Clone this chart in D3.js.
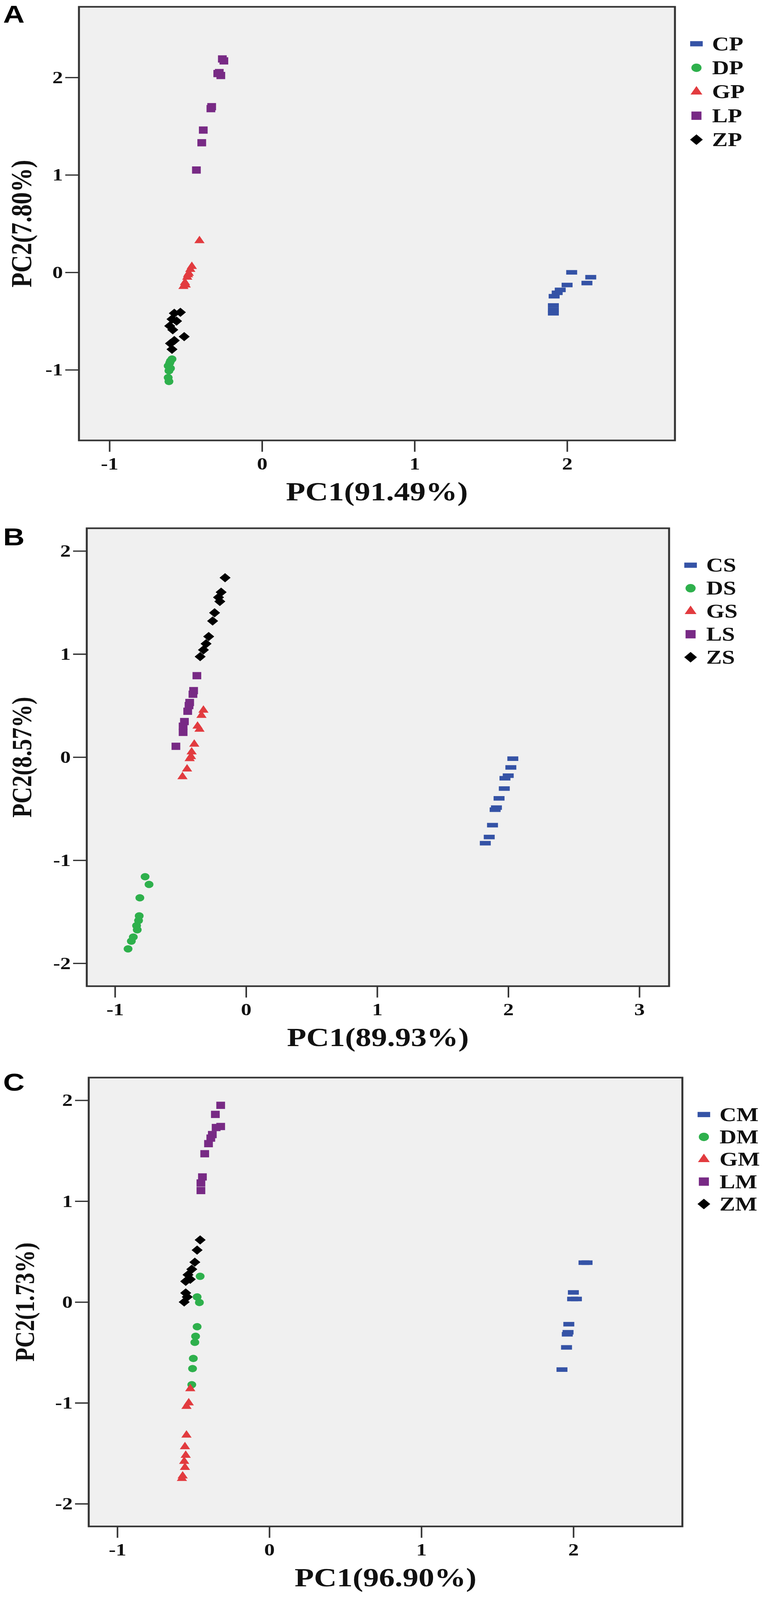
<!DOCTYPE html>
<html>
<head>
<meta charset="utf-8">
<script src="https://cdn.jsdelivr.net/npm/d3@7"></script>
<style>
  body { margin: 0; background: #fff; overflow: hidden; }
  svg { display: block; }
</style>
</head>
<body>
<div id="chart"></div>
<script>

// panel texts and axis settings
var panelLetters = ["A", "B", "C"];
var sampleSuffix = ["P", "S", "M"];
var groupCodes = ["C", "D", "G", "L", "Z"];
var xTitles = ["PC1(91.49%)", "PC1(89.93%)", "PC1(96.90%)"];
var yTitles = ["PC2(7.80%)", "PC2(8.57%)", "PC2(1.73%)"];
var xTicks = [[-1, 0, 1, 2], [-1, 0, 1, 2, 3], [-1, 0, 1, 2]];
var yTicks = [[-1, 0, 1, 2], [-2, -1, 0, 1, 2], [-2, -1, 0, 1, 2]];
var xDomains = [[-1.2, 2.707], [-1.215, 3.227], [-1.188, 2.717]];
var yDomains = [[-1.725, 2.725], [-2.222, 2.22], [-2.225, 2.225]];

// scores [PC1, PC2], panel A
var CP = [[2.03, 0.0], [2.155, -0.05], [2.13, -0.11], [2.0, -0.13], [1.955, -0.18], [1.935, -0.21], [1.915, -0.245], [1.91, -0.34], [1.91, -0.385], [1.91, -0.42]];
var DP = [[-0.59, -0.89], [-0.6, -0.91], [-0.605, -0.93], [-0.615, -0.96], [-0.6, -0.985], [-0.61, -1.01], [-0.615, -1.08], [-0.61, -1.12]];
var GP = [[-0.41, 0.325], [-0.46, 0.06], [-0.47, 0.03], [-0.48, -0.01], [-0.485, -0.025], [-0.49, -0.05], [-0.5, -0.13], [-0.505, -0.105], [-0.515, -0.145]];
var LP = [[-0.26, 2.19], [-0.25, 2.17], [-0.28, 2.05], [-0.29, 2.04], [-0.27, 2.02], [-0.33, 1.70], [-0.335, 1.68], [-0.385, 1.46], [-0.395, 1.33], [-0.43, 1.05]];
var ZP = [[-0.535, -0.41], [-0.575, -0.42], [-0.59, -0.48], [-0.56, -0.50], [-0.605, -0.55], [-0.585, -0.59], [-0.51, -0.66], [-0.575, -0.70], [-0.6, -0.73], [-0.59, -0.79]];

// panel B
var CS = [[2.035, -0.015], [2.02, -0.10], [2.0, -0.18], [1.975, -0.205], [1.97, -0.305], [1.93, -0.40], [1.91, -0.49], [1.90, -0.51], [1.88, -0.66], [1.855, -0.775], [1.825, -0.835]];
var DS = [[-0.77, -1.16], [-0.74, -1.235], [-0.81, -1.365], [-0.815, -1.54], [-0.82, -1.585], [-0.835, -1.635], [-0.83, -1.675], [-0.86, -1.745], [-0.875, -1.785], [-0.9, -1.86]];
var GS = [[-0.325, 0.455], [-0.34, 0.405], [-0.37, 0.30], [-0.355, 0.27], [-0.395, 0.125], [-0.415, 0.05], [-0.42, 0.005], [-0.43, -0.015], [-0.45, -0.115], [-0.485, -0.19]];
var LS = [[-0.375, 0.79], [-0.40, 0.645], [-0.405, 0.61], [-0.43, 0.53], [-0.435, 0.50], [-0.445, 0.445], [-0.47, 0.345], [-0.48, 0.30], [-0.48, 0.24], [-0.535, 0.105]];
var ZS = [[-0.16, 1.74], [-0.19, 1.60], [-0.21, 1.55], [-0.2, 1.51], [-0.24, 1.40], [-0.255, 1.32], [-0.285, 1.17], [-0.305, 1.10], [-0.325, 1.04], [-0.35, 0.975]];

// panel C
var CM = [[2.09, 0.39], [2.07, 0.39], [2.0, 0.095], [2.02, 0.03], [1.995, 0.03], [1.97, -0.22], [1.965, -0.30], [1.96, -0.32], [1.955, -0.45], [1.925, -0.67]];
var DM = [[-0.455, 0.255], [-0.475, 0.05], [-0.46, -0.005], [-0.475, -0.245], [-0.485, -0.34], [-0.49, -0.40], [-0.50, -0.56], [-0.505, -0.66], [-0.51, -0.82]];
var GM = [[-0.52, -0.86], [-0.53, -1.0], [-0.545, -1.035], [-0.545, -1.32], [-0.555, -1.435], [-0.55, -1.52], [-0.56, -1.58], [-0.555, -1.64], [-0.57, -1.725], [-0.575, -1.75]];
var LM = [[-0.32, 1.95], [-0.355, 1.86], [-0.32, 1.74], [-0.35, 1.73], [-0.375, 1.66], [-0.385, 1.625], [-0.40, 1.57], [-0.425, 1.47], [-0.44, 1.24], [-0.45, 1.18], [-0.45, 1.105]];
var ZM = [[-0.455, 0.615], [-0.475, 0.515], [-0.49, 0.395], [-0.51, 0.325], [-0.535, 0.27], [-0.52, 0.225], [-0.55, 0.205], [-0.55, 0.09], [-0.54, 0.05], [-0.56, 0.0]];

var panelData = [
  [CP, DP, GP, LP, ZP],
  [CS, DS, GS, LS, ZS],
  [CM, DM, GM, LM, ZM]
];

// look
var groupColors = ["#3553a6", "#2eb04c", "#e23b3f", "#782a85", "#000000"];
var groupShapes = ["bar", "circle", "triangle", "square", "diamond"];

// frame boxes in figure pixels (figure is 1983 x 4937)
var frames = [
  {left: 202, right: 1727, top: 21, bottom: 1359, letterY: 70, yTitleX: 80, yTitleSize: 75, legendStep: 74},
  {left: 222, right: 1712, top: 1630, bottom: 3043, letterY: 1683, yTitleX: 80, yTitleSize: 71, legendStep: 71},
  {left: 227, right: 1746, top: 3325, bottom: 4710, letterY: 3365, yTitleX: 87, yTitleSize: 70, legendStep: 69}
];

var serif = "'Liberation Serif', 'Times New Roman', serif";

// the window can be shorter than the figure: squeeze it so all of it shows
var figW = 1983, figH = 4937;
var viewH = Math.min(figH, window.innerHeight || figH);

var svg = d3.select("#chart")
  .append("svg")
    .attr("width", figW)
    .attr("height", viewH)
    .attr("viewBox", "0 0 " + figW + " " + figH)
    .attr("preserveAspectRatio", "none");

svg.append("rect").attr("width", figW).attr("height", figH).attr("fill", "#fff");

function drawMarker(g, shape, color, cx, cy, big) {
  var k = big ? 1.15 : 1;
  if (shape == "bar") {
    g.append("rect")
      .attr("x", cx - 14 * k).attr("y", cy - 7 * k)
      .attr("width", 28 * k).attr("height", 14 * k)
      .attr("fill", color);
    return;
  }
  var sym, size, rot = 0;
  if (shape == "circle") { sym = d3.symbolCircle; size = 400; }
  if (shape == "triangle") { sym = d3.symbolTriangle; size = 300; }
  if (shape == "square") { sym = d3.symbolSquare; size = 500; }
  if (shape == "diamond") { sym = d3.symbolSquare; size = 400; rot = 45; }
  g.append("path")
    .attr("d", d3.symbol().type(sym).size(size * k * k)())
    .attr("transform", "translate(" + cx + "," + cy + ") rotate(" + rot + ")")
    .attr("fill", color);
}

function drawPanel(p) {
  var f = frames[p];
  var x = d3.scaleLinear().domain(xDomains[p]).range([f.left, f.right]);
  var y = d3.scaleLinear().domain(yDomains[p]).range([f.bottom, f.top]);

  // plot box
  svg.append("rect")
    .attr("x", f.left).attr("y", f.top)
    .attr("width", f.right - f.left).attr("height", f.bottom - f.top)
    .attr("fill", "#f0f0f0")
    .attr("stroke", "#333")
    .attr("stroke-width", 5);

  // axes
  var xAxis = svg.append("g")
    .attr("transform", "translate(0," + f.bottom + ")")
    .call(d3.axisBottom(x).tickValues(xTicks[p]).tickSize(35).tickPadding(16)
      .tickFormat(function(d) { return String(d); }));
  var yAxis = svg.append("g")
    .attr("transform", "translate(" + f.left + ",0)")
    .call(d3.axisLeft(y).tickValues(yTicks[p]).tickSize(35).tickPadding(6)
      .tickFormat(function(d) { return String(d); }));
  [xAxis, yAxis].forEach(function(a) {
    a.select(".domain").remove();
    a.selectAll(".tick line").attr("stroke", "#333").attr("stroke-width", 4);
    a.selectAll(".tick text")
      .attr("fill", "#111")
      .style("font-family", serif)
      .style("font-weight", "bold")
      .style("font-size", "54px");
  });

  // points
  var pts = svg.append("g");
  panelData[p].forEach(function(series, i) {
    series.forEach(function(d) {
      drawMarker(pts, groupShapes[i], groupColors[i], x(d[0]), y(d[1]), false);
    });
  });

  // titles
  svg.append("text")
    .attr("x", (f.left + f.right) / 2)
    .attr("y", f.bottom + 185)
    .attr("text-anchor", "middle")
    .style("font-family", serif).style("font-weight", "bold").style("font-size", "81px")
    .attr("fill", "#111")
    .text(xTitles[p]);

  svg.append("text")
    .attr("transform", "translate(" + f.yTitleX + "," + ((f.top + f.bottom) / 2) + ") rotate(-90)")
    .attr("text-anchor", "middle")
    .style("font-family", serif).style("font-weight", "bold").style("font-size", f.yTitleSize + "px")
    .attr("fill", "#111")
    .text(yTitles[p]);

  svg.append("text")
    .attr("x", 8)
    .attr("y", f.letterY)
    .style("font-family", "'Liberation Sans', Arial, sans-serif")
    .style("font-weight", "bold").style("font-size", "76px")
    .text(panelLetters[p]);

  // legend
  var leg = svg.append("g");
  groupCodes.forEach(function(c, i) {
    var cy = f.top + 114 + i * f.legendStep;
    drawMarker(leg, groupShapes[i], groupColors[i], f.right + 55, cy, true);
    leg.append("text")
      .attr("x", f.right + 95)
      .attr("y", cy + 20)
      .style("font-family", serif).style("font-weight", "bold").style("font-size", "60px")
      .attr("fill", "#111")
      .text(c + sampleSuffix[p]);
  });
}

for (var p = 0; p < 3; p++) {
  drawPanel(p);
}

</script>
</body>
</html>
